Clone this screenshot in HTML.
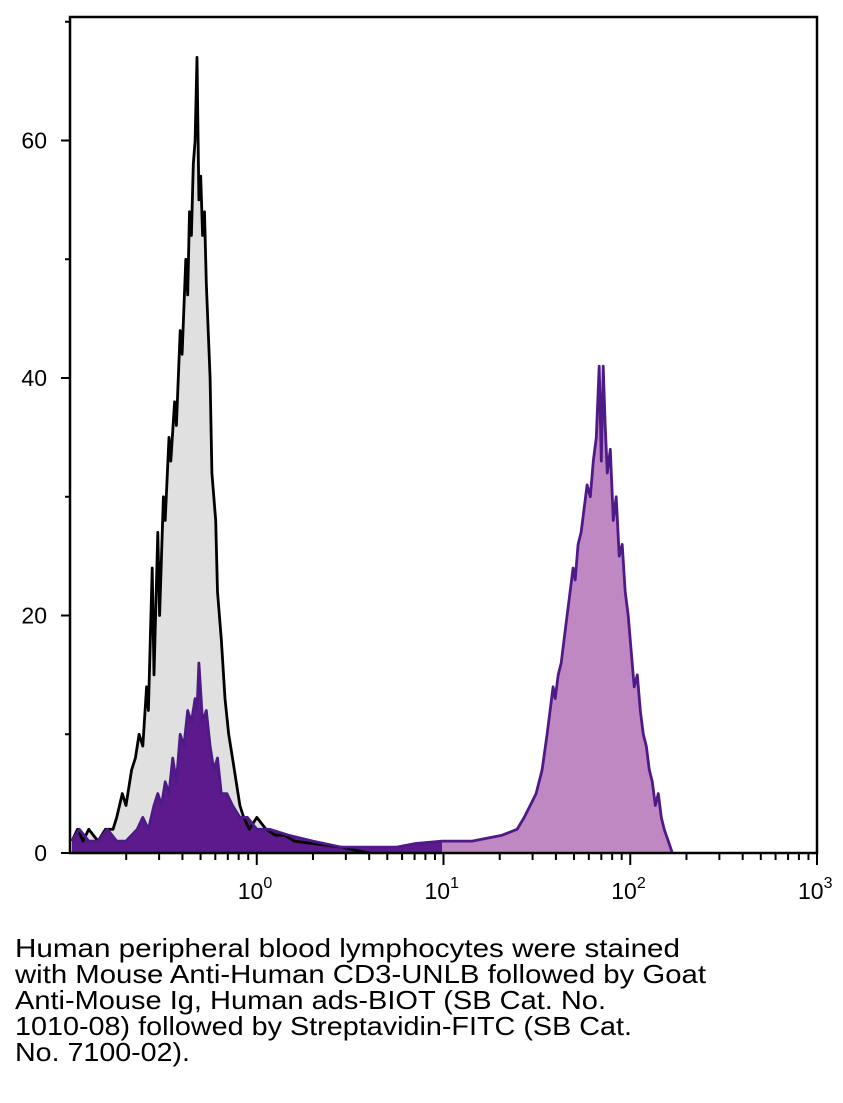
<!DOCTYPE html>
<html><head><meta charset="utf-8"><style>
html,body{margin:0;padding:0;background:#fff;}
svg{display:block;font-family:"Liberation Sans",sans-serif;}
</style></head><body>
<svg id="chart" width="843" height="1103" viewBox="0 0 843 1103" xmlns="http://www.w3.org/2000/svg">
<g id="plot"></g>
<g id="axes"></g>
<g id="caption" font-size="26" fill="#000">
<text x="15" y="957" textLength="665" lengthAdjust="spacingAndGlyphs">Human peripheral blood lymphocytes were stained</text>
<text x="15" y="983" textLength="691" lengthAdjust="spacingAndGlyphs">with Mouse Anti-Human CD3-UNLB followed by Goat</text>
<text x="15" y="1009" textLength="591" lengthAdjust="spacingAndGlyphs">Anti-Mouse Ig, Human ads-BIOT (SB Cat. No.</text>
<text x="15" y="1035" textLength="617" lengthAdjust="spacingAndGlyphs">1010-08) followed by Streptavidin-FITC (SB Cat.</text>
<text x="15" y="1061" textLength="175" lengthAdjust="spacingAndGlyphs">No. 7100-02).</text>
</g>
</svg>
<script>
// log10 fluorescence bin centres and counts
const greyLog = [-0.99,-0.96,-0.93,-0.9,-0.85,-0.81,-0.77,-0.75,-0.72,-0.7,-0.67,-0.65,-0.63,-0.61,-0.59,-0.58,-0.56,-0.55,-0.53,-0.52,-0.5,-0.49,-0.47,-0.46,-0.44,-0.43,-0.41,-0.4,-0.38,-0.37,-0.36,-0.35,-0.34,-0.33,-0.32,-0.31,-0.3,-0.29,-0.28,-0.27,-0.26,-0.25,-0.24,-0.22,-0.21,-0.19,-0.17,-0.15,-0.13,-0.11,-0.09,-0.07,-0.04,0,0.05,0.1,0.15,0.2,0.3,0.45,0.6];
const greyCount = [1,2,1,2,1,2,2,3,5,4,7,8,10,9,14,12,24,15,27,20,30,28,35,33,38,36,44,42,50,47,54,52,58,60,67,55,57,52,54,48,44,40,32,28,22,18,13,10,8,6,4,3,2,3,2,1.5,1.5,1,0.8,0.5,0];
const purpleLog = [-0.99,-0.95,-0.9,-0.85,-0.8,-0.75,-0.7,-0.67,-0.64,-0.61,-0.58,-0.55,-0.53,-0.51,-0.49,-0.47,-0.45,-0.43,-0.41,-0.39,-0.37,-0.35,-0.33,-0.32,-0.31,-0.29,-0.27,-0.25,-0.23,-0.21,-0.19,-0.16,-0.13,-0.09,-0.05,0.0,0.07,0.17,0.3,0.45,0.6,0.75,0.85,0.992,1.153,1.314,1.394,1.432,1.464,1.496,1.528,1.555,1.571,1.587,1.598,1.614,1.63,1.646,1.662,1.678,1.694,1.705,1.721,1.737,1.753,1.769,1.786,1.802,1.818,1.834,1.845,1.855,1.866,1.877,1.893,1.909,1.925,1.941,1.957,1.973,1.989,2.005,2.021,2.038,2.054,2.07,2.086,2.102,2.118,2.134,2.15,2.166,2.182,2.204,2.225];
const purpleCount = [1,2,1,1,2,1,1,1.5,2,3,2,4,5,4,6,5,8,6,10,9,12,11,13,12,16,11,12,9,7,8,5,5,4,3,3,2,2,1.5,1,0.5,0.5,0.5,0.8,1,1,1.5,2,3,4,5,7,10,12,14,13,15,16,18,20,22,24,23,26,27,29,31,30,33,35,41,33,41,36,32,34,28,30,25,26,22,20,17,14,15,12,10,9,7,6,4,5,3,2,1,0];
const yTicks = [0,20,40,60];
const xDecades = [0,1,2,3];

const NS = 'http://www.w3.org/2000/svg';
const X0 = 70, X1 = 817, Y0 = 853, Y1 = 17;
const xs = l => X0 + (l + 1) / 4 * (X1 - X0);
const ys = v => Y0 - v / 70.4 * (Y0 - Y1);
function mk(tag, attrs, parent) { const e = document.createElementNS(NS, tag); for (const k in attrs) e.setAttribute(k, attrs[k]); parent.appendChild(e); return e; }
const plot = document.getElementById('plot');
const axes = document.getElementById('axes');

function areaPath(lx, cy, lo, hi) {
  const idx = lx.map((_, i) => i).filter(i => lx[i] >= lo && lx[i] <= hi);
  let d = 'M' + xs(lx[idx[0]]) + ',' + ys(0);
  idx.forEach(i => d += ' L' + xs(lx[i]).toFixed(1) + ',' + ys(cy[i]).toFixed(1));
  d += ' L' + xs(lx[idx[idx.length - 1]]) + ',' + ys(0) + ' Z';
  return d;
}
function linePath(lx, cy) { return lx.map((l, i) => (i ? 'L' : 'M') + xs(l).toFixed(1) + ',' + ys(cy[i]).toFixed(1)).join(' '); }

const gArea = mk('path', { d: areaPath(greyLog, greyCount, -2, 5), fill: '#e0e0e0' }, plot);


const pDark = mk('path', { d: areaPath(purpleLog, purpleCount, -2, 1.0), fill: '#5c1a8c' }, plot);


const pLight = mk('path', { d: areaPath(purpleLog, purpleCount, 0.99, 5), fill: '#c088c2' }, plot);


const gLine = mk('path', { d: linePath(greyLog, greyCount), fill: 'none', stroke: '#000', 'stroke-width': 2.8, 'stroke-linejoin': 'round' }, plot);


const pLine = mk('path', { d: linePath(purpleLog, purpleCount), fill: 'none', stroke: '#4e1a88', 'stroke-width': 2.8, 'stroke-linejoin': 'round' }, plot);



const frame = mk('rect', { x: X0, y: Y1, width: X1 - X0, height: Y0 - Y1, fill: 'none', stroke: '#000', 'stroke-width': 2.5 }, axes);



yTicks.forEach(v => {
  const t = mk('line', { x1: X0 - 9, x2: X0, y1: ys(v), y2: ys(v), stroke: '#000', 'stroke-width': 2 }, axes);
  
  
  const m = mk('line', { x1: X0 - 5, x2: X0, y1: ys(v + 10), y2: ys(v + 10), stroke: '#000', 'stroke-width': 2 }, axes);
  
  
  const lb = mk('text', { x: X0 - 23, y: ys(v) + 8, 'text-anchor': 'end', 'font-size': 23 }, axes);
  lb.textContent = v;
  
  
});
for (let d = -1; d < 3; d++) for (let k = 2; k <= 9; k++) {
  const x = xs(d + Math.log10(k));
  const m = mk('line', { x1: x, x2: x, y1: Y0, y2: Y0 + 7, stroke: '#000', 'stroke-width': 2 }, axes);
  
  
}
xDecades.forEach(d => {
  const x = xs(d);
  const t = mk('line', { x1: x, x2: x, y1: Y0, y2: Y0 + 12, stroke: '#000', 'stroke-width': 2 }, axes);
  
  
  const lb = mk('text', { x: x - 19, y: Y0 + 46, 'font-size': 23 }, axes);
  
  
  const b = mk('tspan', {}, lb); b.textContent = '10';
  const s = mk('tspan', { dy: -11, 'font-size': 16 }, lb); s.textContent = d;
});
</script>
</body></html>
